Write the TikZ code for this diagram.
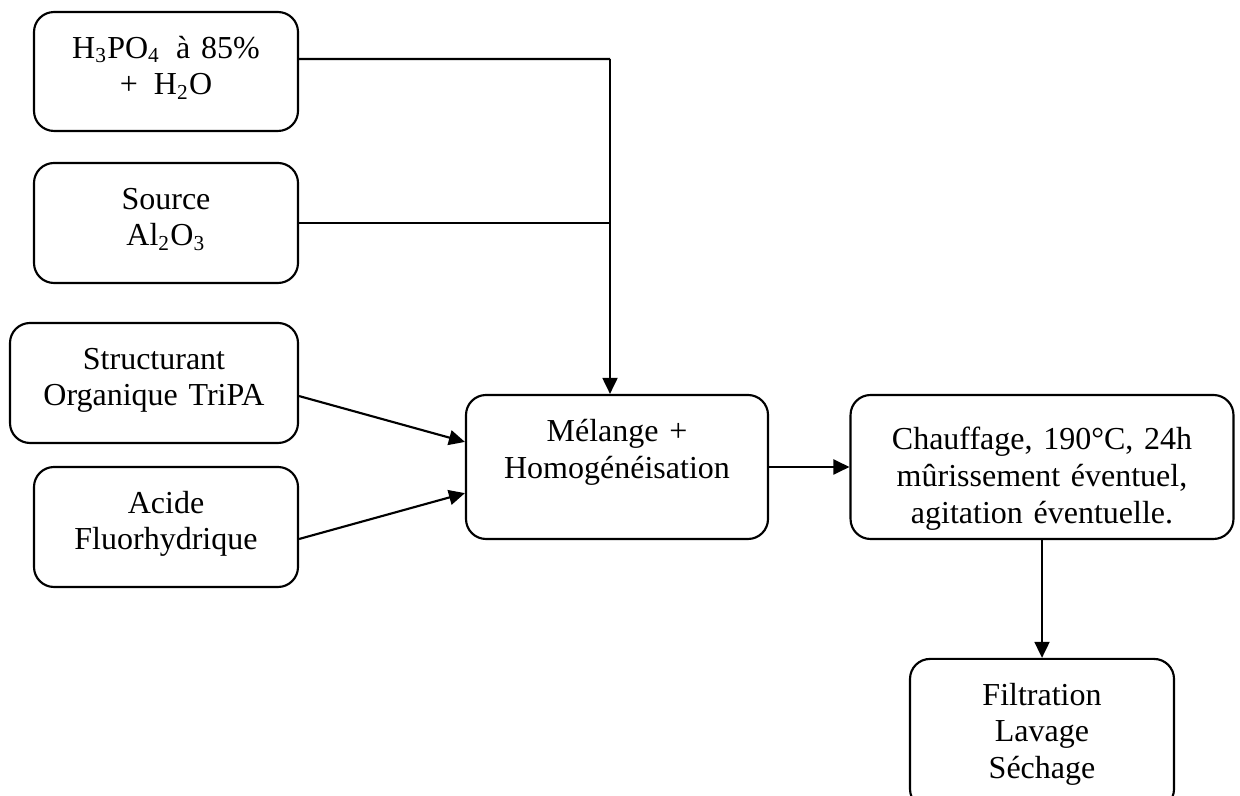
\documentclass[tikz,border=0pt]{standalone}
\usepackage{fontspec}
\setmainfont{Liberation Serif}
\usetikzlibrary{positioning,arrows,arrows.meta}

\begin{document}
\begin{tikzpicture}[x=0.375pt, y=-0.375pt]
    \tikzset{
      stepbox/.style = {rectangle, rounded corners=7.5pt, draw=black, line width=0.8pt, align=center, inner sep=0pt, text height=17.3pt, font=\fontsize{12}{13.8}\selectfont},
      input/.style = {stepbox, text width=99pt, text depth=27.7pt},
      arrow/.style = {line width=0.8pt, -{Triangle[length=6pt,width=5.6pt]}},
      line/.style = {line width=0.8pt}
    }
    \useasboundingbox (0,0) rectangle (1240,796);

    \node (h3po4) [input, text depth=27.3pt] at (166,71.5) {H\textsubscript{3}PO\textsubscript{4}\ \,à 85\% \\ +\ \,H\textsubscript{2}O};
    \node (alumina) [input] at (166,223) {Source \\ Al\textsubscript{2}O\textsubscript{3}};
    \node (tripa) [input, text width=108pt] at (154,383) {Structurant \\ Organique TriPA};
    \node (hf) [input] at (166,527) {Acide \\ Fluorhydrique};

    \node (mix) [stepbox, text width=113.25pt, text height=17.6pt, text depth=36.4pt] at (617,467) {Mélange + \\ Homogénéisation};
    \node (heat) [stepbox, text width=143.6pt, text height=20.6pt, text depth=33.4pt] at (1042,467) {Chauffage, 190°C, 24h \\ mûrissement éventuel, \\ agitation éventuelle.};
    \node (filter) [stepbox, text width=99pt, text depth=39pt] at (1042,734) {Filtration \\ Lavage \\ Séchage};

    \coordinate (bend) at (610,59);
    \draw [line] ([yshift=4.7pt]h3po4.east) -- (bend);
    \draw [line] (alumina.east) -- (alumina.east -| bend);
    \draw [arrow] (bend) -- (bend |- mix.north);
    \draw [arrow] ([yshift=-4.9pt]tripa.east) -- ([yshift=9.4pt]mix.west);
    \draw [arrow] ([yshift=-4.5pt]hf.east) -- ([yshift=-9.8pt]mix.west);
    \draw [arrow] (mix) -- (heat);
    \draw [arrow] (heat) -- (filter);
\end{tikzpicture}
\end{document}
